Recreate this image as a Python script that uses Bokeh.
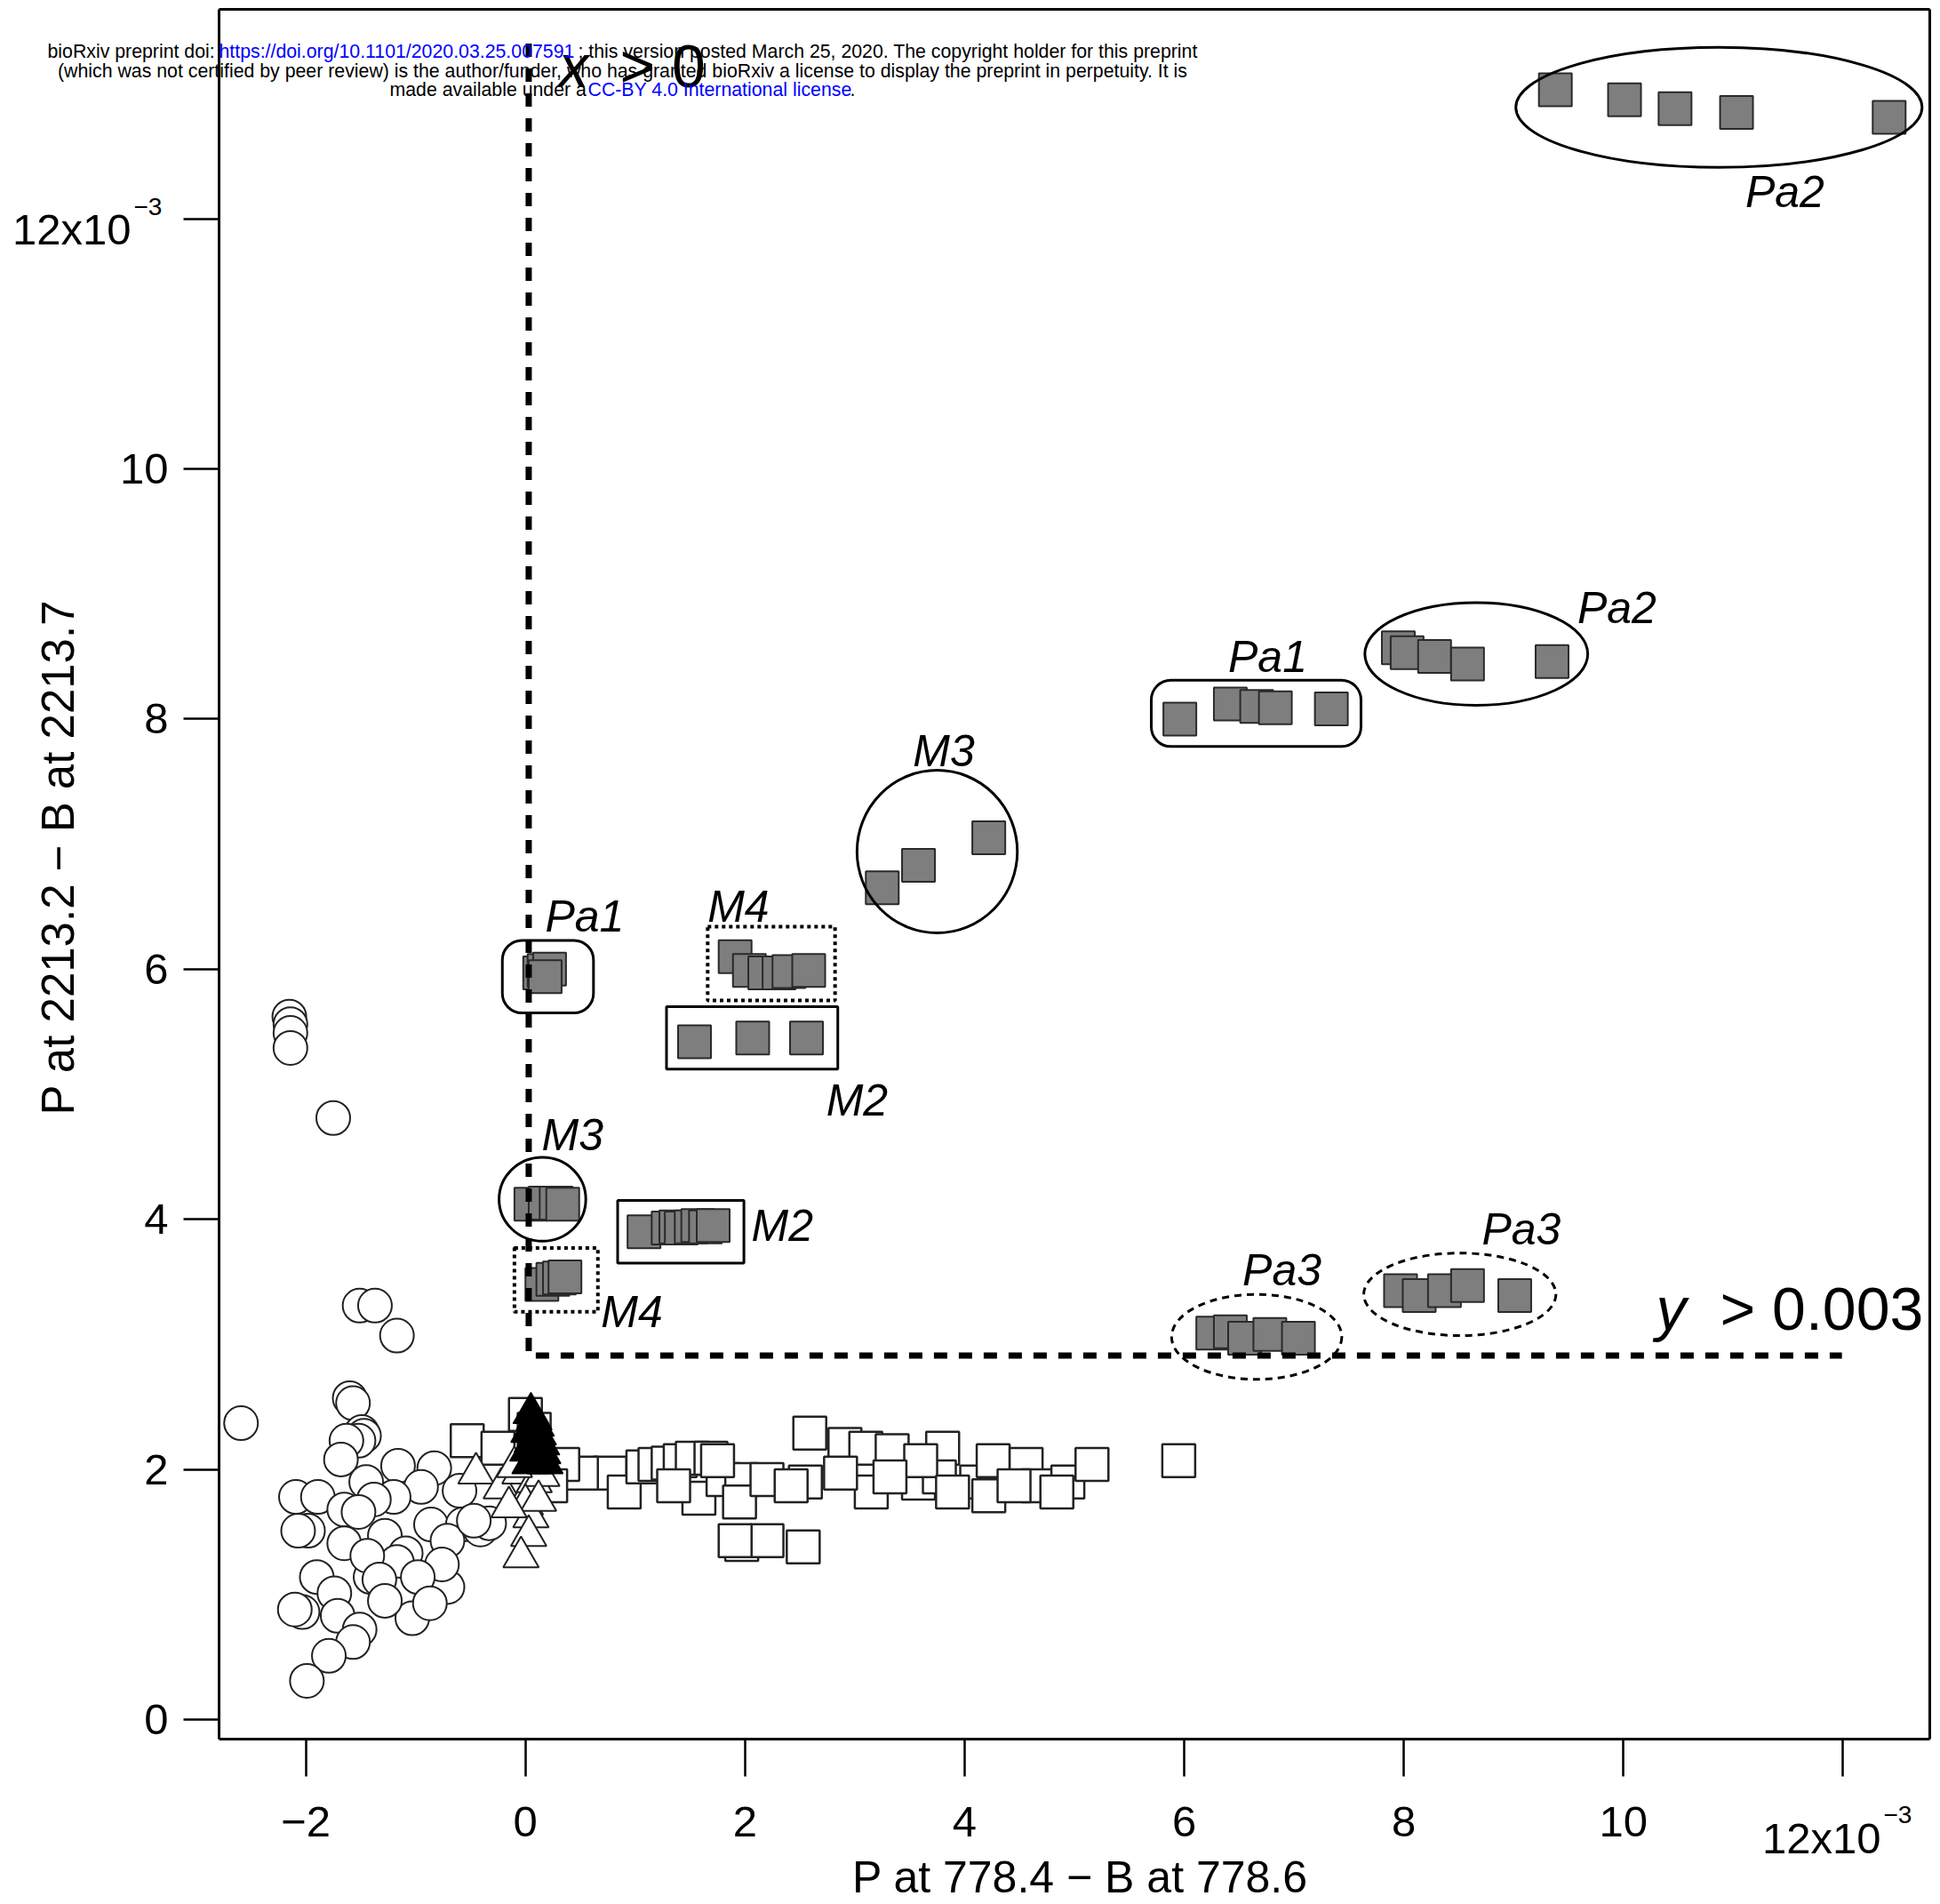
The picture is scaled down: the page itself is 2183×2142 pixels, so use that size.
import math
from bokeh.plotting import figure
from bokeh.models import Range1d, Label, FixedTicker, LinearAxis
from bokeh.core.properties import value
from bokeh.embed import file_html
from bokeh.resources import INLINE

# ---------------- data (units of 1e-3) ----------------
circle_x = [-2.15, -2.14, -2.14, -2.14, -1.75, -1.51, -1.37, -1.17, -2.59, -1.60, -1.57, -1.49, -1.47,
            -1.52, -1.63, -1.68, -1.45, -1.16, -0.83, -0.95, -1.20, -2.09, -1.89, -1.65, -0.60, -1.98,
            -2.07, -1.65, -1.28, -1.09, -0.86, -0.57, -0.41, -0.33, -0.71, -1.90, -1.74, -1.41, -1.17,
            -1.16, -1.03, -0.71, -0.76, -2.03, -2.10, -1.71, -1.51, -1.57, -1.79, -1.99, -1.38, -1.52,
            -1.44, -1.33, -0.98, -1.28, -0.87, -0.47]
circle_y = [5.62, 5.56, 5.49, 5.37, 4.81, 3.31, 3.31, 3.07, 2.37, 2.57, 2.53, 2.30, 2.27,
            2.23, 2.23, 2.08, 1.90, 2.03, 2.01, 1.86, 1.78, 1.78, 1.78, 1.68, 1.83, 1.51,
            1.51, 1.41, 1.47, 1.33, 1.56, 1.56, 1.52, 1.57, 1.43, 1.14, 1.01, 1.14, 1.26,
            1.00, 0.81, 1.06, 1.24, 0.86, 0.88, 0.83, 0.72, 0.62, 0.51, 0.31, 1.76, 1.66,
            1.31, 1.12, 1.14, 0.95, 0.93, 1.59]

osq_x = [-0.53, -0.25, 0.00, 0.08, 0.77, 0.90, 1.07, 1.18, 1.30, 1.41, 1.52, 1.69, 1.58, 1.80, 1.97,
         1.95, 2.20, 2.55, 2.59, 2.91, 3.10, 3.34, 3.15, 3.58, 3.80, 3.77, 3.60, 4.11, 4.26, 4.56,
         4.67, 4.94, 5.16, 5.95, 3.32, 2.87, 2.42, 1.97, 2.20, 2.53, 1.91, 3.89, 4.22, 4.45, 4.84,
         1.35, 0.51, 0.34, 0.23, 1.75]
osq_y = [2.23, 2.17, 2.44, 2.32, 1.97, 1.82, 2.02, 2.04, 2.05, 2.07, 2.09, 2.09, 1.77, 1.92, 1.92,
         1.74, 1.92, 1.90, 2.29, 2.20, 2.17, 2.15, 1.82, 1.89, 2.17, 1.94, 2.07, 1.90, 2.07, 2.04,
         1.87, 1.90, 2.04, 2.07, 1.94, 1.97, 1.87, 1.40, 1.43, 1.38, 1.43, 1.82, 1.79, 1.87, 1.82,
         1.87, 1.97, 2.04, 1.87, 2.07]

otri_x = [-0.45, -0.22, -0.05, 0.02, 0.08, 0.15, 0.00, 0.05, 0.03, -0.04, 0.10, -0.10, 0.12, -0.15]
otri_y = [1.97, 1.85, 1.97, 1.80, 1.90, 1.95, 1.72, 1.62, 1.47, 1.30, 2.05, 2.02, 1.75, 1.70]

ftri_x = [0.05, 0.08, 0.10, 0.03, 0.12, 0.06, 0.15, 0.02, 0.09, 0.13, 0.18, 0.04, 0.11, 0.07, 0.16]
ftri_y = [2.45, 2.40, 2.35, 2.30, 2.28, 2.22, 2.20, 2.15, 2.12, 2.08, 2.05, 2.05, 2.18, 2.32, 2.13]

# grey squares, by group
pa2_top_x = [9.38, 10.01, 10.47, 11.03, 12.42]
pa2_top_y = [13.03, 12.95, 12.88, 12.85, 12.81]
pa2_x = [7.95, 8.03, 8.28, 8.58, 9.35]
pa2_y = [8.57, 8.53, 8.50, 8.44, 8.46]
pa1_x = [5.96, 6.42, 6.66, 6.83, 7.34]
pa1_y = [8.00, 8.12, 8.10, 8.09, 8.08]
m3_x = [3.25, 3.58, 4.22]
m3_y = [6.65, 6.83, 7.05]
m4_x = [1.91, 2.04, 2.18, 2.31, 2.40, 2.58]
m4_y = [6.10, 5.99, 5.97, 5.97, 5.98, 5.99]
m2_x = [1.54, 2.07, 2.56]
m2_y = [5.42, 5.45, 5.45]
pa1b_x = [0.13, 0.17, 0.22, 0.18]
pa1b_y = [5.97, 5.99, 6.00, 5.94]
m3b_x = [0.05, 0.18, 0.28, 0.34]
m3b_y = [4.12, 4.13, 4.13, 4.12]
m4b_x = [0.15, 0.25, 0.31, 0.36]
m4b_y = [3.48, 3.52, 3.53, 3.54]
m2b_x = [1.08, 1.30, 1.37, 1.42, 1.51, 1.57, 1.64, 1.71]
m2b_y = [3.90, 3.93, 3.94, 3.93, 3.94, 3.95, 3.94, 3.95]
pa3a_x = [6.26, 6.42, 6.55, 6.78, 7.04]
pa3a_y = [3.09, 3.10, 3.05, 3.08, 3.05]
pa3b_x = [7.97, 8.14, 8.37, 8.58, 9.01]
pa3b_y = [3.43, 3.39, 3.43, 3.47, 3.39]

x_ticks = [-2, 0, 2, 4, 6, 8, 10, 12]
y_ticks = [0, 2, 4, 6, 8, 10, 12]
x_title = "P at 778.4 \u2212 B at 778.6"
y_title = "P at 2213.2 \u2212 B at 2213.7"

# ---------------- layout ----------------
W, H = 2183, 2142
# plot box (pixels) and its data limits
FL, FR, FT, FB = 246, 2171, 10, 1956
X0, X1 = -2.79, 12.79
Y0, Y1 = -0.156, 13.674
KX = (X1 - X0) / (FR - FL)
KY = (Y1 - Y0) / (FB - FT)


def px_x(X):
    return X0 + (X - FL) * KX


def px_y(Y):
    return Y1 - (Y - FT) * KY


FONT = "Liberation Sans"

# the frame spans the whole canvas; the box is drawn by axes fixed at the box limits
p = figure(width=W, height=H,
           x_range=Range1d(px_x(0), px_x(W)), y_range=Range1d(px_y(H), px_y(0)),
           output_backend="svg", toolbar_location=None,
           min_border=0, min_border_left=0, min_border_right=0, min_border_top=0,
           min_border_bottom=0)
p.grid.visible = False
p.outline_line_color = None
p.background_fill_color = "white"
p.border_fill_color = "white"


def minus(v):
    return ("\u2212" + str(-v)) if v < 0 else str(v)


for ax, ticks in ((p.xaxis[0], x_ticks), (p.yaxis[0], y_ticks)):
    ax.ticker = FixedTicker(ticks=ticks)
    ax.major_label_overrides = {t: ("" if t == 12 else minus(t)) for t in ticks}
    ax.axis_line_width = 3
    ax.major_tick_line_width = 2.5
    ax.minor_tick_line_color = None
    ax.major_tick_in = 0
    ax.major_label_text_font = FONT
    ax.major_label_text_font_size = "49px"
    ax.major_label_text_color = "black"

p.xaxis.fixed_location = Y0
p.xaxis.bounds = (X0, X1)
p.xaxis.major_tick_out = 42
p.xaxis.major_label_standoff = 34
p.yaxis.fixed_location = X0
p.yaxis.bounds = (Y0, Y1)
p.yaxis.major_tick_out = 40
p.yaxis.major_label_standoff = 17

# top and right sides of the box
top_ax = LinearAxis(fixed_location=Y1, bounds=(X0, X1), ticker=FixedTicker(ticks=[]),
                    axis_line_width=3, major_tick_line_color=None, minor_tick_line_color=None,
                    major_label_text_font_size="0px")
right_ax = LinearAxis(fixed_location=X1, bounds=(Y0, Y1), ticker=FixedTicker(ticks=[]),
                      axis_line_width=3, major_tick_line_color=None, minor_tick_line_color=None,
                      major_label_text_font_size="0px")
p.add_layout(top_ax, "above")
p.add_layout(right_ax, "right")

# axis titles
p.add_layout(Label(x=px_x(1215), y=px_y(2139), text=x_title, text_font=FONT, text_font_size="50px",
                   text_align="center", text_baseline="bottom", text_color="black"))
p.add_layout(Label(x=px_x(65), y=px_y(964), text=y_title, text_font=FONT, text_font_size="51px",
                   text_align="center", text_baseline="middle", text_color="black", angle=math.pi / 2))

# "12x10^-3" tick labels
for txt, X, Y, size, align in (("12x10", 147, 257, "49px", "right"),
                               ("\u22123", 150, 232, "28px", "left"),
                               ("12x10", 2116, 2067, "49px", "right"),
                               ("\u22123", 2119, 2041, "28px", "left")):
    p.add_layout(Label(x=px_x(X), y=px_y(Y), text=txt, text_font=FONT, text_font_size=size,
                       text_align=align, text_baseline="middle", text_color="black"))

# ---------------- points ----------------
p.scatter(circle_x, circle_y, marker="circle", size=38, fill_color="white",
          line_color="#222222", line_width=2)
p.scatter(osq_x, osq_y, marker="square", size=37, fill_color="white",
          line_color="#222222", line_width=2.5)
p.scatter(otri_x, otri_y, marker="triangle", size=40, fill_color="white",
          line_color="#222222", line_width=2)
p.scatter(ftri_x, ftri_y, marker="triangle", size=40, fill_color="black",
          line_color="black", line_width=1.5)

gx = pa2_top_x + pa2_x + pa1_x + m3_x + m4_x + m2_x + pa1b_x + m3b_x + m4b_x + m2b_x + pa3a_x + pa3b_x
gy = pa2_top_y + pa2_y + pa1_y + m3_y + m4_y + m2_y + pa1b_y + m3b_y + m4b_y + m2b_y + pa3a_y + pa3b_y
p.scatter(gx, gy, marker="square", size=37, fill_color="#7e7e7e",
          line_color="#2a2a2a", line_width=2)

# ---------------- thresholds ----------------
p.line([0.03, 0.03, 11.99], [13.4, 2.91, 2.91], line_color="black", line_width=7,
       line_dash="15 13", line_cap="butt")

# ---------------- group outlines ----------------
p.ellipse(x=[10.87, 8.66, 3.75, 0.155], y=[12.89, 8.52, 6.94, 4.16],
          width=[3.70, 2.03, 1.46, 0.79], height=[0.96, 0.82, 1.30, 0.67],
          fill_alpha=0, line_color="black", line_width=3)
p.ellipse(x=[6.66, 8.51], y=[3.06, 3.40], width=[1.55, 1.75], height=[0.68, 0.66],
          fill_alpha=0, line_color="black", line_width=3, line_dash="8 6")
p.rect(x=[6.655, 0.205], y=[8.045, 5.94], width=[1.91, 0.83], height=[0.53, 0.58],
       fill_alpha=0, line_color="black", line_width=3, border_radius=22)
p.rect(x=[2.065, 1.415], y=[5.45, 3.90], width=[1.56, 1.15], height=[0.50, 0.50],
       fill_alpha=0, line_color="black", line_width=3)
p.rect(x=[2.24, 0.28], y=[6.045, 3.515], width=[1.16, 0.76], height=[0.59, 0.51],
       fill_alpha=0, line_color="black", line_width=4, line_dash="4 4")

lab_x = [11.47, 9.94, 6.76, 3.81, 1.94, 0.54, 3.02, 0.43, 2.34, 0.97, 6.89, 9.07]
lab_y = [12.21, 8.89, 8.50, 7.74, 6.50, 6.42, 4.95, 4.67, 3.95, 3.26, 3.59, 3.92]
lab_t = ["Pa2", "Pa2", "Pa1", "M3", "M4", "Pa1", "M2", "M3", "M2", "M4", "Pa3", "Pa3"]
p.text(lab_x, lab_y, text=lab_t, text_font=value(FONT), text_font_style="italic",
       text_font_size="50px", text_align="center", text_baseline="middle", text_color="black")

# threshold labels
for txt, X, Y, style, align in (("x", 645, 73, "italic", "center"),
                                ("> 0", 697, 73, "normal", "left"),
                                ("y", 1880, 1471, "italic", "center"),
                                ("> 0.003", 1935, 1471, "normal", "left")):
    p.add_layout(Label(x=px_x(X), y=px_y(Y), text=txt, text_font=FONT, text_font_size="68px",
                       text_font_style=style, text_align=align, text_baseline="middle",
                       text_color="black"))

# ---------------- preprint banner ----------------
BLUE = "#0000ff"
banner = [
    ("bioRxiv preprint doi: ", 53, 57, "black", "left"),
    ("https://doi.org/10.1101/2020.03.25.007591", 246, 57, BLUE, "left"),
    ("; this version posted March 25, 2020. The copyright holder for this preprint", 650, 57, "black", "left"),
    ("(which was not certified by peer review) is the author/funder, who has granted bioRxiv a license "
     "to display the preprint in perpetuity. It is", 700, 79, "black", "center"),
    ("made available under a", 438, 100, "black", "left"),
    ("CC-BY 4.0 International license", 661, 100, BLUE, "left"),
    (".", 956, 100, "black", "left"),
]
for txt, X, Y, col, align in banner:
    p.add_layout(Label(x=px_x(X), y=px_y(Y), text=txt, text_font=FONT, text_font_size="21.3px",
                       text_align=align, text_baseline="middle", text_color=col))

open("out.html", "w").write(file_html(p, INLINE))
